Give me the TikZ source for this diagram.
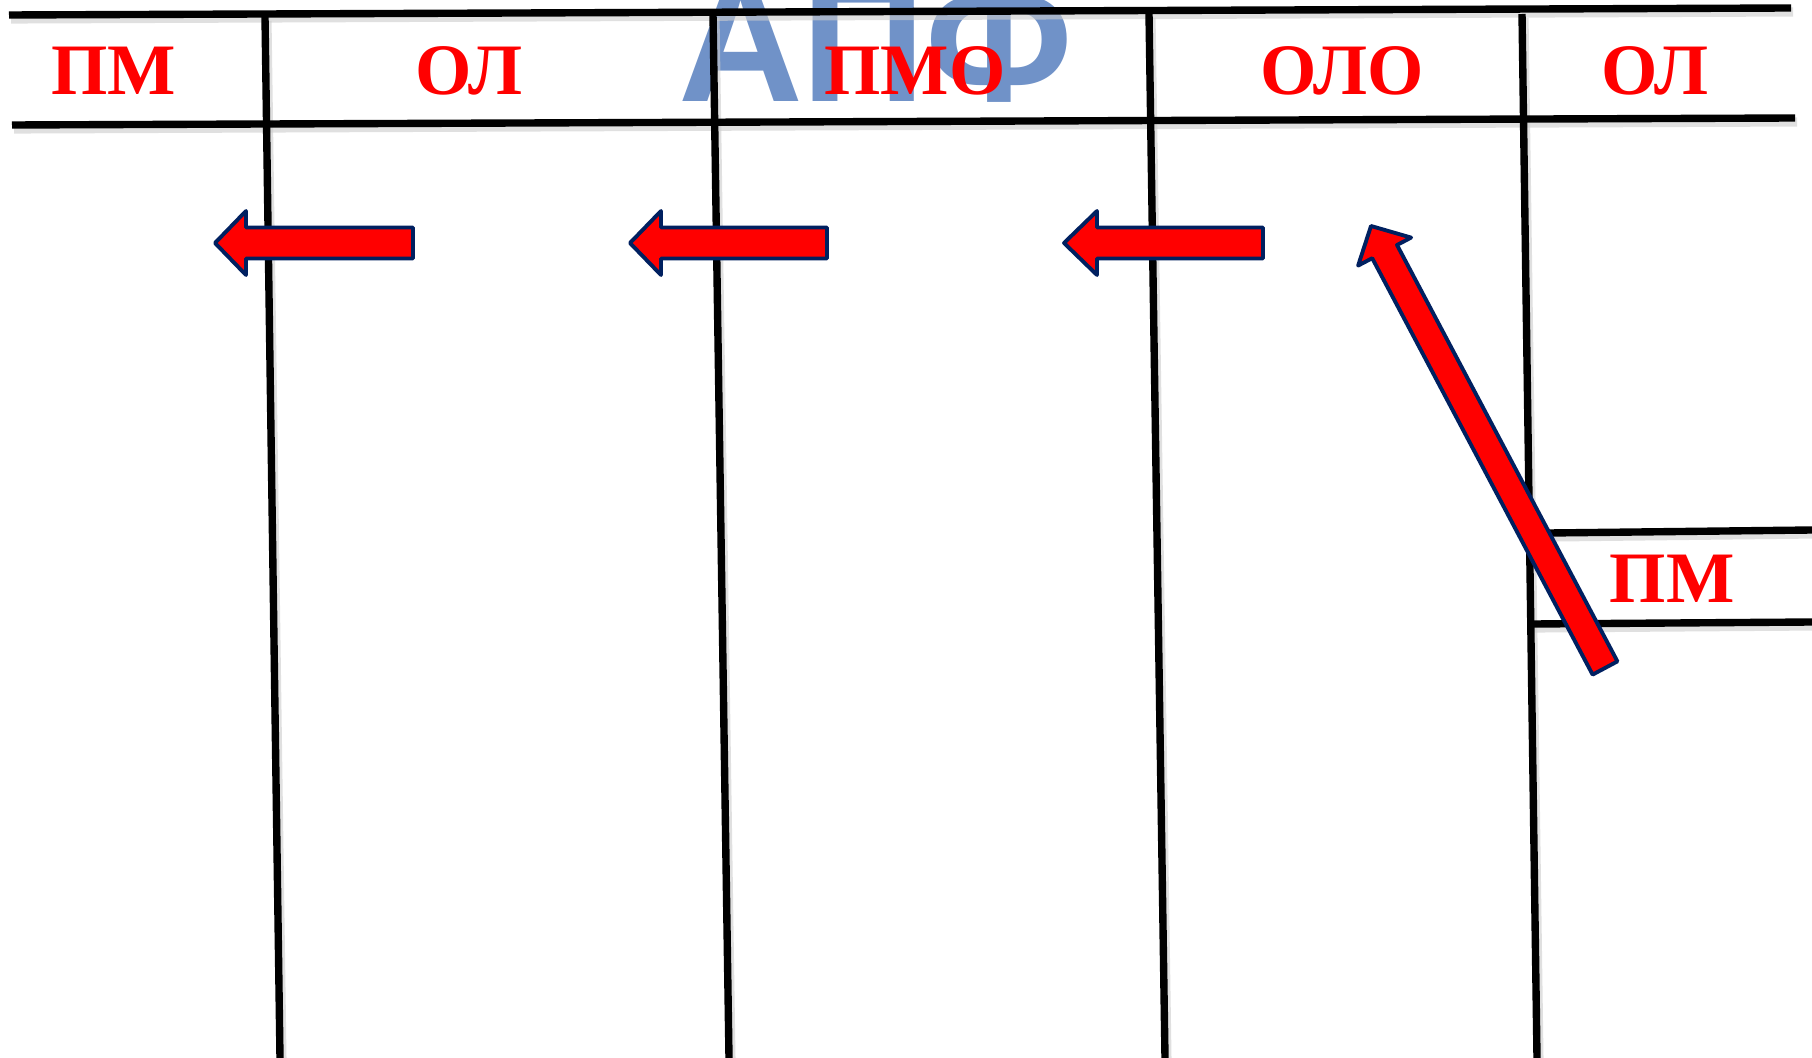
\documentclass[tikz,border=0pt]{standalone}
\usepackage{fontspec}
\setmainfont{Liberation Serif}
\newfontfamily\watermarkfont{Liberation Sans}
\definecolor{wmblue}{RGB}{112,146,200}
\definecolor{arrnavy}{RGB}{0,32,96}
\definecolor{arrred}{RGB}{255,0,0}
\begin{document}
\begin{tikzpicture}[x=0.01cm,y=-0.01cm,
  gridline/.style={line width=2.1pt,black},
  gridshadow/.style={line width=2.6pt,black!20,opacity=0.6},
  label/.style={text=arrred,font=\fontsize{20.6}{22}\selectfont\bfseries,anchor=base,inner sep=0pt},
  blockarrow/.style={fill=arrred,draw=arrnavy,line width=1.1pt,line join=round}]
\useasboundingbox (0,0) rectangle (1812,1058);
\fill[white] (0,0) rectangle (1812,1058);
% watermark
\node[text=wmblue,font=\watermarkfont\fontsize{49.2}{50}\selectfont\bfseries,anchor=base,inner sep=0pt] (wm) at (876,102) {АПФ};
% shadows
\begin{scope}[shift={(2,4)}]
\draw[gridshadow] (9,15) -- (1791,8);
\draw[gridshadow] (12,125) -- (1795,118);
\draw[gridshadow] (265,17) -- (280,1058);
\draw[gridshadow] (713,14) -- (729,1058);
\draw[gridshadow] (1149,14) -- (1165,1058);
\draw[gridshadow] (1522,14) -- (1537,1058);
\draw[gridshadow] (1549,533) -- (1812,530);
\draw[gridshadow] (1533,624) -- (1812,622);
\end{scope}
% grid lines
\draw[gridline] (9,15) -- (1791,8);
\draw[gridline] (12,125) -- (1795,118);
\draw[gridline] (265,17) -- (280,1058);
\draw[gridline] (713,14) -- (729,1058);
\draw[gridline] (1149,14) -- (1165,1058);
\draw[gridline] (1522,14) -- (1537,1058);
\draw[gridline] (1549,533) -- (1812,530);
\draw[gridline] (1533,624) -- (1812,622);
% labels
\node[label] (pm1) at (114,95) {ПМ};
\node[label] (ol1) at (469,95) {ОЛ};
\node[label] (pmo) at (915,95) {ПМО};
\node[label] (olo) at (1342,95) {ОЛО};
\node[label] (ol2) at (1655,95) {ОЛ};
\node[label] (pm2) at (1672,602) {ПМ};
% horizontal block arrows
\draw[blockarrow] (215,243) -- (246,211) -- (246,227.5) -- (413,227.5) -- (413,258.5) -- (246,258.5) -- (246,275) -- cycle;
\draw[blockarrow] (630,243) -- (661,211) -- (661,227.5) -- (827,227.5) -- (827,258.5) -- (661,258.5) -- (661,275) -- cycle;
\draw[blockarrow] (1064,243) -- (1097,211) -- (1097,227.5) -- (1263,227.5) -- (1263,258.5) -- (1097,258.5) -- (1097,275) -- cycle;
% diagonal block arrow
\draw[blockarrow] (1371,226) -- (1411.1,237.6) -- (1397.0,245.0) -- (1617.4,661.4) -- (1592.6,674.6) -- (1372.2,258.2) -- (1358.1,265.6) -- cycle;
\end{tikzpicture}
\end{document}
